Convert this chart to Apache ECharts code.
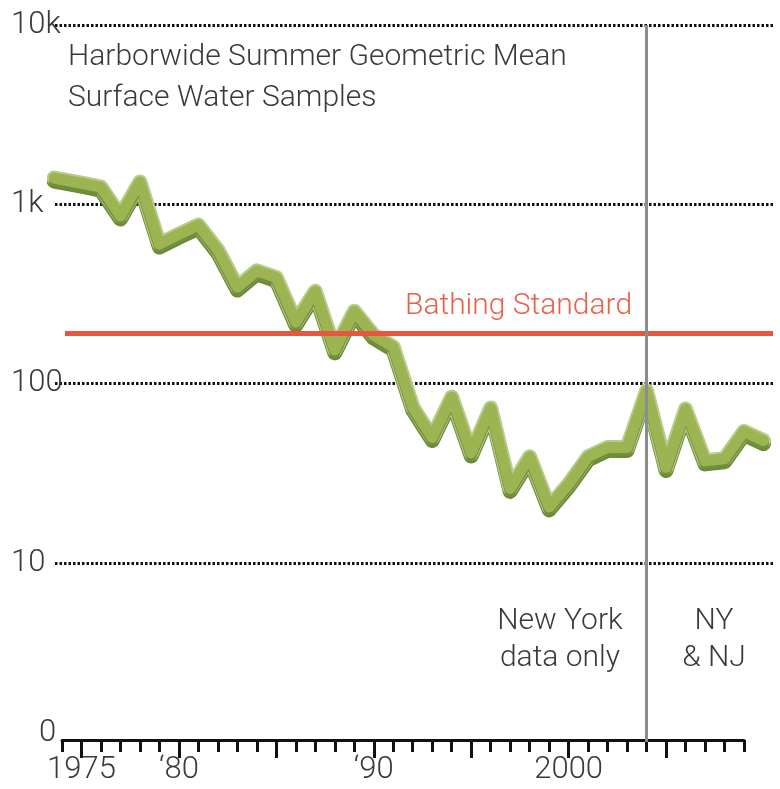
<!DOCTYPE html>
<html><head><meta charset="utf-8">
<script src="https://cdn.jsdelivr.net/npm/echarts@6/dist/echarts.min.js"></script>
<style>html,body{margin:0;padding:0;background:#fff}#c{width:780px;height:789px}</style>
</head><body><div id="c"></div>
<script>
// ---- data ----
const years   = [1973.6, 1975, 1976, 1977, 1978, 1979, 1980, 1981, 1982, 1983, 1984, 1985, 1986, 1987, 1988, 1989,
                 1990, 1991, 1992, 1993, 1994, 1995, 1996, 1997, 1998, 1999, 2000, 2001, 2002, 2003, 2004, 2005,
                 2006, 2007, 2008, 2009, 2010];
const geoMean = [1400, 1310, 1245, 860, 1330, 600, 680, 765, 555, 345, 425, 390, 220, 327, 154, 253,
                 186, 160, 74, 50, 84, 41, 73, 26, 39, 20.5, 27.5, 39, 44, 44, 91, 34,
                 72, 37, 38, 54, 48];
const bathingStandard = 190;
const regionSplitYear = 2004;
const tickYears = [1974, 1975, 1976, 1977, 1978, 1979, 1980, 1981, 1982, 1983, 1984, 1985, 1986, 1987, 1988, 1989,
                   1990, 1991, 1992, 1993, 1994, 1995, 1996, 1997, 1998, 1999, 2000, 2001, 2002, 2003, 2004, 2005,
                   2006, 2007, 2008, 2009];
const majorTickYears = [1975, 1980, 1985, 1990, 1995, 2000, 2005];
const labelYears  = [1975, 1980, 1990, 2000];
const labelTexts  = ['1975', '\u201880', '\u201890', '2000'];
const yTickValues = [1, 10, 100, 1000, 10000];
const yTickLabels = ['0', '10', '100', '1k', '10k'];

// ---- layout ----
const FONT = 'Roboto';
const axisLeft = 62, axisRight = 744, plotLeft = 55, plotRight = 775, W = 780;
const firstYear = tickYears[0], lastYear = tickYears[tickYears.length - 1];
const pxPerYear = (axisRight - axisLeft) / (lastYear - firstYear);
const xMin = firstYear - (axisLeft - plotLeft) / pxPerYear;
const xMax = lastYear + (plotRight - axisRight) / pxPerYear;
const stdX0 = firstYear + (65 - axisLeft) / pxPerYear;
const stdX1 = lastYear + (773 - axisRight) / pxPerYear;

const seriesData = years.map((y, i) => [y, geoMean[i]]);
const tickStyle = {color: '#111', width: 3};

const chart = echarts.init(document.getElementById('c'), null, {renderer: 'canvas'});
chart.setOption({
  animation: false,
  backgroundColor: '#fff',
  grid: [
    {left: axisLeft, right: W - axisRight, top: 25, bottom: 49},
    {left: plotLeft, right: W - plotRight, top: 25, bottom: 47}
  ],
  xAxis: [
    {
      type: 'value', gridIndex: 0, min: firstYear, max: lastYear, interval: 1,
      axisLine: {lineStyle: {color: '#111', width: 3}},
      axisTick: {length: 12, customValues: tickYears, lineStyle: tickStyle},
      axisLabel: {
        customValues: labelYears, hideOverlap: false,
        formatter: v => labelTexts[labelYears.indexOf(Math.round(v))] || '',
        fontFamily: FONT, fontWeight: 300, fontSize: 31, color: '#3a3a3a', margin: 15
      },
      splitLine: {show: false}
    },
    {
      type: 'value', gridIndex: 0, position: 'bottom', min: firstYear, max: lastYear, interval: 1,
      axisLine: {show: false},
      axisTick: {length: 18, customValues: majorTickYears, lineStyle: tickStyle},
      axisLabel: {show: false},
      splitLine: {show: false}
    },
    {type: 'value', gridIndex: 1, min: xMin, max: xMax, show: false}
  ],
  yAxis: [
    {type: 'value', gridIndex: 0, show: false},
    {
      type: 'log', gridIndex: 1, logBase: 10, min: yTickValues[0], max: yTickValues[yTickValues.length - 1],
      axisLine: {show: false}, axisTick: {show: false},
      splitLine: {show: true, showMinLine: false, lineStyle: {color: '#111', width: 3, type: [2.5, 2]}},
      axisLabel: {
        align: 'left', margin: 44,
        formatter: v => {
          const t = yTickLabels[yTickValues.indexOf(Math.round(v))];
          if (t === undefined) return '';
          return v < 5 ? '{z|' + t + '}' : t;
        },
        fontFamily: FONT, fontWeight: 300, fontSize: 31, color: '#3a3a3a',
        rich: {z: {fontFamily: FONT, fontWeight: 300, fontSize: 31, color: '#3a3a3a', padding: [0, 0, 18, 28]}}
      }
    }
  ],
  series: [
    {
      name: 'Bathing Standard', type: 'line', xAxisIndex: 2, yAxisIndex: 1, data: [], z: 2,
      markLine: {
        silent: true, symbol: 'none', label: {show: false},
        lineStyle: {color: '#e8563f', width: 5, type: 'solid'},
        data: [[{coord: [stdX0, bathingStandard]}, {coord: [stdX1, bathingStandard]}]]
      }
    },
    {
      name: 'Geometric mean (edge)', type: 'line', xAxisIndex: 2, yAxisIndex: 1, data: seriesData, z: 3,
      symbol: 'none', clip: false,
      lineStyle: {color: '#b9cb8a', width: 15, join: 'round', cap: 'round',
        shadowColor: '#6c8a37', shadowOffsetY: 3, shadowBlur: 0}
    },
    {
      name: 'Geometric mean', type: 'line', xAxisIndex: 2, yAxisIndex: 1, data: seriesData, z: 4,
      symbol: 'none', clip: false,
      lineStyle: {color: '#9cb552', width: 11, join: 'round', cap: 'round',
        shadowColor: '#718e3d', shadowOffsetY: 2.5, shadowBlur: 0}
    },
    {
      name: 'Region split', type: 'line', xAxisIndex: 2, yAxisIndex: 1, data: [], z: 6,
      markLine: {
        silent: true, symbol: 'none', label: {show: false},
        lineStyle: {color: '#8c8c8c', width: 3, type: 'solid'},
        data: [{xAxis: regionSplitYear}]
      }
    }
  ],
  graphic: [
    {type: 'text', left: 68, top: 37, z: 10,
      style: {text: 'Harborwide Summer Geometric Mean\nSurface Water Samples', font: '300 30px Roboto',
        fill: '#3a3a3a', lineHeight: 41}},
    {type: 'text', left: 405, top: 291, z: 10,
      style: {text: 'Bathing Standard', font: '300 30px Roboto', fill: '#e9604b'}},
    {type: 'text', x: 560, y: 603, z: 10,
      style: {text: 'New York\ndata only', font: '300 30px Roboto', fill: '#3a3a3a', align: 'center', lineHeight: 37}},
    {type: 'text', x: 714, y: 603, z: 10,
      style: {text: 'NY\n& NJ', font: '300 30px Roboto', fill: '#3a3a3a', align: 'center', lineHeight: 37}}
  ]
});
</script></body></html>
